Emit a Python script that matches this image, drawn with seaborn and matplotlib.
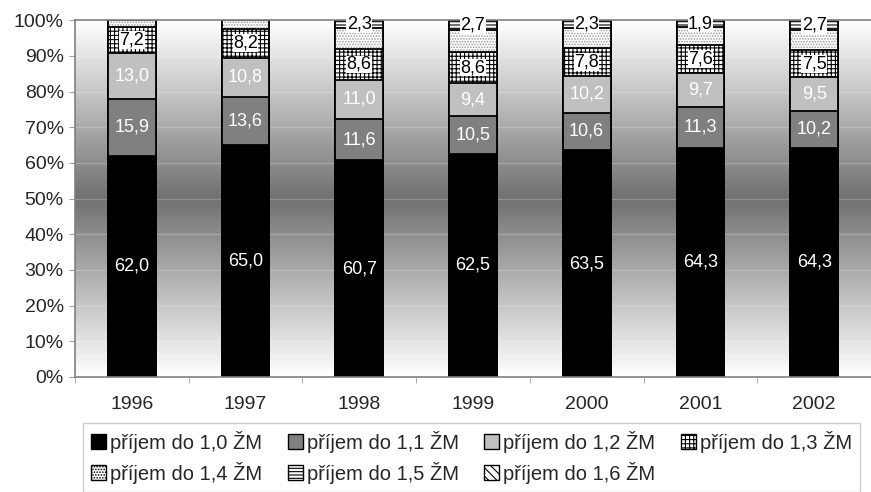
import numpy as np
import pandas as pd
import matplotlib.pyplot as plt
import seaborn as sns
from matplotlib.patches import Patch

years = ["1996", "1997", "1998", "1999", "2000", "2001", "2002"]
labels = ["příjem do 1,0 ŽM", "příjem do 1,1 ŽM", "příjem do 1,2 ŽM", "příjem do 1,3 ŽM",
          "příjem do 1,4 ŽM", "příjem do 1,5 ŽM", "příjem do 1,6 ŽM"]
p10 = [62.0, 65.0, 60.7, 62.5, 63.5, 64.3, 64.3]
p11 = [15.9, 13.6, 11.6, 10.5, 10.6, 11.3, 10.2]
p12 = [13.0, 10.8, 11.0, 9.4, 10.2, 9.7, 9.5]
p13 = [7.2, 8.2, 8.6, 8.6, 7.8, 7.6, 7.5]
p14 = [1.9, 2.4, 5.8, 6.3, 5.6, 5.2, 5.8]
p15 = [0.0, 0.0, 2.3, 2.7, 2.3, 1.9, 2.7]
p16 = [0.0, 0.0, 0.0, 0.0, 0.0, 0.0, 0.0]

series = [p10, p11, p12, p13, p14, p15, p16]
faces = ["black", "#808080", "#c0c0c0", "white", "white", "white", "white"]
hatches = [None, None, None, "++++", "......", "-----", "\\\\\\\\"]
hatch_cols = ["black", "black", "black", "black", "#9a9a9a", "black", "black"]

sns.set_style("white")
plt.rcParams["font.family"] = ["Liberation Sans", "DejaVu Sans"]
plt.rcParams["hatch.linewidth"] = 0.8

fig = plt.figure(figsize=(8.71, 4.92), dpi=100)
ax = fig.add_axes([0.086, 0.234, 0.914, 0.725])

# gradient background
g = np.linspace(0, 1, 256)
shade = 1 - 0.56 * (1 - np.abs(2 * g - 1))
ax.imshow(shade[:, None], cmap="gray", vmin=0, vmax=1, aspect="auto",
          extent=[-0.5, 6.5, 0, 100], origin="lower", zorder=0)
for t in range(10, 100, 10):
    ax.axhline(t, color="white", alpha=0.22, lw=1, zorder=1)

data = np.array(series)
cum = np.cumsum(data, axis=0)
cum = cum * 100 / cum[-1]
data = np.diff(np.vstack([np.zeros(len(years)), cum]), axis=0)

# draw cumulative bars from the top layer down
for i in range(len(series) - 1, -1, -1):
    df = pd.DataFrame({"year": years, "val": cum[i]})
    sns.barplot(data=df, x="year", y="val", ax=ax, color=faces[i], width=0.42,
                edgecolor="black", linewidth=1.3, saturation=1, zorder=2)
    for bar in ax.patches[-len(years):]:
        bar.set_facecolor(faces[i])
        if hatches[i]:
            bar.set_hatch(hatches[i])
            bar._hatch_color = plt.matplotlib.colors.to_rgba(hatch_cols[i])

for i, s in enumerate(series):
    for j, v in enumerate(s):
        if v <= 0 or i in (4, 6):
            continue
        y = cum[i][j] - data[i][j] / 2
        txt = f"{v:.1f}".replace(".", ",")
        if i < 3:
            ax.text(j, y, txt, ha="center", va="center", color="white", fontsize=13, zorder=4)
        else:
            ax.text(j, y, txt, ha="center", va="center", color="black", fontsize=13, zorder=4,
                    bbox=dict(facecolor="white", edgecolor="none", pad=0.3))

ax.set_xlim(-0.5, 6.5)
ax.set_ylim(0, 100)
ax.set_yticks(range(0, 101, 10))
ax.set_yticklabels([f"{t}%" for t in range(0, 101, 10)], fontsize=14)
ax.set_xticks(np.arange(-0.5, 6.6, 1), minor=True)
ax.tick_params(axis="x", labelsize=14, pad=14, length=0)
ax.tick_params(axis="x", which="minor", bottom=True, length=4, color="#a0a0a0")
ax.tick_params(axis="y", left=True, length=4, color="#a0a0a0", pad=4)
ax.set_xlabel("")
ax.set_ylabel("")
for sp in ax.spines.values():
    sp.set_color("#808080")
    sp.set_linewidth(1.2)
ax.spines["right"].set_visible(False)

# legend filled row by row like the original
order = [0, 4, 1, 5, 2, 6, 3]
handles = [Patch(facecolor=faces[i], edgecolor="black", hatch=hatches[i], label=labels[i])
           for i in order]
leg = fig.legend(handles=handles, loc="lower left", bbox_to_anchor=(0.084, -0.02, 0.915, 0.16),
                 mode="expand", ncol=4, fontsize=14.5, frameon=True, fancybox=False,
                 handlelength=0.75, handleheight=0.75, handletextpad=0.2, columnspacing=1.1,
                 borderpad=0.4, labelspacing=0.45)
leg.get_frame().set_edgecolor("#c0c0c0")
leg.get_frame().set_linewidth(1.0)

fig.savefig("out.png", dpi=100)
